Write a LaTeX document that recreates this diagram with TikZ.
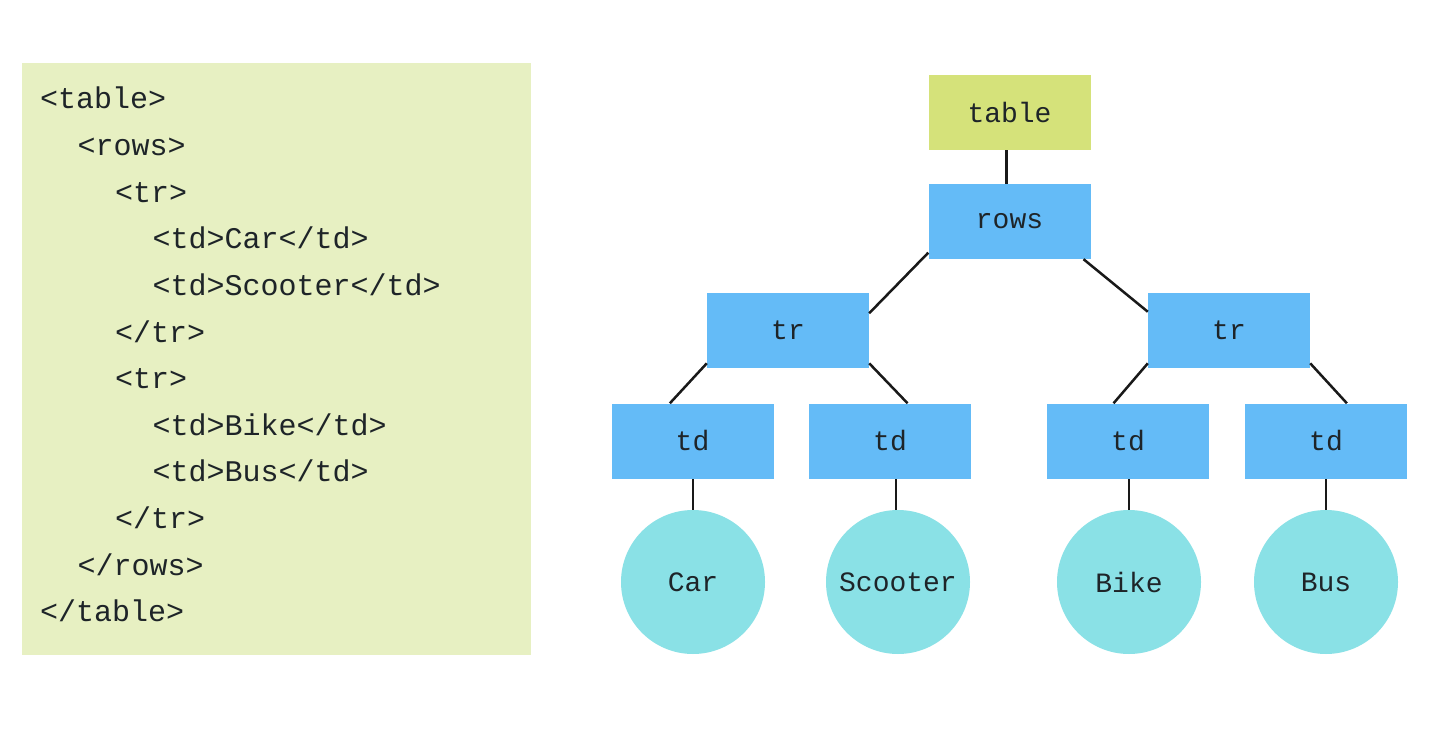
\documentclass[tikz,border=0pt]{standalone}
\usepackage{fontspec}
\setmonofont{Liberation Mono}
\usetikzlibrary{calc}
\definecolor{panel}{RGB}{231,240,194}
\definecolor{tablegreen}{RGB}{213,226,122}
\definecolor{boxblue}{RGB}{100,187,247}
\definecolor{leafcyan}{RGB}{138,225,230}
\definecolor{ink}{RGB}{30,36,40}
\tikzset{
  codeline/.style={anchor=base west, inner sep=0pt, font=\ttfamily\fontsize{30}{30}\selectfont, text=ink},
  tagbox/.style={rectangle, fill=boxblue, minimum width=162pt, minimum height=75pt, inner sep=0pt, font=\ttfamily\fontsize{28}{28}\selectfont, text=ink},
  rootbox/.style={tagbox, fill=tablegreen},
  leaf/.style={circle, fill=leafcyan, minimum size=144pt, inner sep=0pt, font=\ttfamily\fontsize{28}{28}\selectfont, text=ink},
  edge/.style={draw=black!90, line width=2.5pt}
}
\begin{document}
\begin{tikzpicture}[x=1pt,y=-1pt]
\useasboundingbox[fill=white] (0,0) rectangle (1430,730);
% code panel
\fill[panel] (22,63) rectangle (531,655);
\node[codeline] (c1) at (40,109) {<table>};
\node[codeline] (c2) at (77.5,155.6) {<rows>};
\node[codeline] (c3) at (115,202.2) {<tr>};
\node[codeline] (c4) at (152.5,248.8) {<td>Car</td>};
\node[codeline] (c5) at (152.5,295.4) {<td>Scooter</td>};
\node[codeline] (c6) at (115,342) {</tr>};
\node[codeline] (c7) at (115,388.6) {<tr>};
\node[codeline] (c8) at (152.5,435.2) {<td>Bike</td>};
\node[codeline] (c9) at (152.5,481.8) {<td>Bus</td>};
\node[codeline] (c10) at (115,528.4) {</tr>};
\node[codeline] (c11) at (77.5,575) {</rows>};
\node[codeline] (c12) at (40,621.6) {</table>};
% tree
\node[rootbox] (table) at (1009.5,112.5) {table};
\node[tagbox] (rows) at (1009.5,221.5) {rows};
\node[tagbox] (trL) at (788,330.5) {tr};
\node[tagbox] (trR) at (1229,330.5) {tr};
\node[tagbox] (tdA) at (692.5,441) {td};
\node[tagbox] (tdB) at (890,441) {td};
\node[tagbox] (tdC) at (1128,441) {td};
\node[tagbox] (tdD) at (1326,441) {td};
\node[leaf] (car) at (693,582) {Car};
\node[leaf] (scooter) at (898,582) {Scooter};
\node[leaf] (bike) at (1129,582) {Bike};
\node[leaf] (bus) at (1326,582) {Bus};
% connectors
\draw[edge] ($(table.south)+(-3,0)$) -- ($(rows.north)+(-3,0)$);
\draw[edge] (rows.201.5) -- (trL.12);
\draw[edge] (rows.-27) -- (trR.167.8);
\draw[edge] (trL.202) -- (tdA.121);
\draw[edge] (trL.-22.6) -- (tdB.65);
\draw[edge] (trR.202.5) -- (tdC.111);
\draw[edge] (trR.-22.9) -- (tdD.61.6);
\draw[edge] (car.north) -- (car.north |- tdA.south);
\draw[edge] ($(scooter.north)+(-2,0)$) -- ($(scooter.north |- tdB.south)+(-2,0)$);
\draw[edge] (bike.north) -- (bike.north |- tdC.south);
\draw[edge] (bus.north) -- (bus.north |- tdD.south);
\end{tikzpicture}
\end{document}
